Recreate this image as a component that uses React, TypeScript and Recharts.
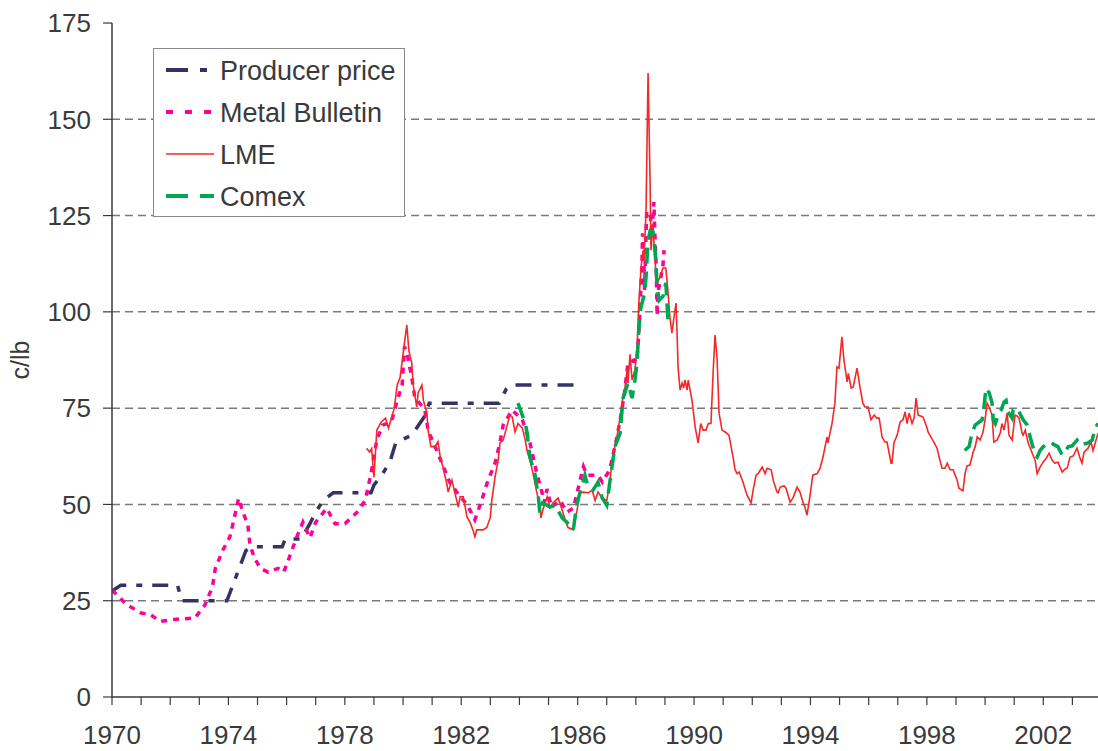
import React from 'react';
import { LineChart, Line, XAxis, YAxis, CartesianGrid, Legend, Label } from 'recharts';

const FONT = '"Liberation Sans", Arial, sans-serif';
const TEXT = '#3a3a3a';

const yearTicks = [1970, 1971, 1972, 1973, 1974, 1975, 1976, 1977, 1978, 1979, 1980, 1981, 1982, 1983, 1984, 1985, 1986, 1987, 1988, 1989, 1990, 1991, 1992, 1993, 1994, 1995, 1996, 1997, 1998, 1999, 2000, 2001, 2002, 2003];
const labelYears = [1970, 1974, 1978, 1982, 1986, 1990, 1994, 1998, 2002];
const yTicks = [0, 25, 50, 75, 100, 125, 150, 175];
const gridValues = [25, 50, 75, 100, 125, 150];

const producer: [number, number][] = [
  [1970.0, 27.5], [1970.3, 29], [1972.25, 29], [1972.4, 25], [1973.95, 25], [1974.2, 30], [1974.6, 38], [1974.8, 39],
  [1975.85, 39], [1975.95, 41], [1976.5, 41], [1976.8, 45], [1977.0, 48], [1977.25, 51], [1977.6, 53], [1978.9, 53],
  [1979.0, 55], [1979.3, 58], [1979.55, 61], [1979.75, 66], [1980.3, 68], [1980.75, 73], [1980.9, 76.3], [1983.3, 76.3],
  [1983.55, 80], [1983.7, 81], [1985.95, 81],
];

const metalBulletin: [number, number][] = [
  [1970.0, 27.8], [1970.5, 24], [1971.0, 21.8], [1971.3, 21.5], [1971.65, 19.6], [1972.2, 20.2], [1972.85, 20.5],
  [1973.2, 24], [1973.45, 28.6], [1973.55, 33.4], [1973.8, 38], [1974.05, 41.6], [1974.2, 46.4], [1974.35, 51.6],
  [1974.5, 48], [1974.67, 44.6], [1974.74, 39.5], [1974.9, 36], [1975.1, 33.4], [1975.37, 32.4], [1975.7, 33.4],
  [1975.9, 32.4], [1976.1, 36.4], [1976.35, 41.6], [1976.56, 45.4], [1976.8, 41.3], [1977.0, 45.4], [1977.38, 49],
  [1977.66, 45], [1978.0, 45], [1978.4, 47.8], [1978.7, 51], [1978.9, 58], [1979.1, 66.7], [1979.3, 70.6],
  [1979.6, 71.4], [1979.8, 77], [1979.97, 81], [1980.05, 91], [1980.17, 88], [1980.3, 83], [1980.4, 78],
  [1980.75, 74.5], [1980.86, 69.3], [1981.34, 60.7], [1981.6, 55.8], [1981.96, 52], [1982.2, 50], [1982.47, 46],
  [1982.7, 51], [1982.9, 55.8], [1983.16, 60.7], [1983.33, 66], [1983.44, 70.6], [1983.75, 74.5], [1984.1, 72],
  [1984.36, 66], [1984.47, 62.3], [1984.6, 58], [1984.78, 53], [1984.85, 50.4], [1984.95, 54], [1985.1, 49.3],
  [1985.4, 51], [1985.63, 48], [1985.85, 49], [1986.2, 59.8], [1986.32, 57.6], [1986.7, 57.6], [1986.85, 55.8],
  [1987.1, 59], [1987.2, 62.3], [1987.35, 67.5], [1987.5, 73.7], [1987.6, 78.4], [1987.67, 83], [1987.73, 86.7],
  [1987.94, 87.5], [1988.03, 87], [1988.08, 92], [1988.12, 97], [1988.18, 107.5], [1988.21, 112.7], [1988.23, 120.4],
  [1988.27, 115.5], [1988.3, 105.7], [1988.37, 126], [1988.49, 125.6], [1988.55, 120], [1988.62, 128.5],
  [1988.66, 119], [1988.7, 111.6], [1988.73, 99], [1988.76, 105], [1988.93, 112], [1988.97, 116],
];

const lme: [number, number][] = [
  [1978.75, 64.6], [1978.85, 63.6], [1978.92, 64.5], [1979.0, 57], [1979.1, 69.3], [1979.25, 71.4], [1979.4, 72.4],
  [1979.5, 69.8], [1979.6, 72.4], [1979.7, 75], [1979.8, 81], [1979.9, 83], [1980.0, 89], [1980.13, 96.6],
  [1980.2, 90], [1980.3, 86.7], [1980.35, 81], [1980.47, 75.3], [1980.52, 79], [1980.65, 81], [1980.7, 77],
  [1980.82, 73.7], [1980.86, 69.3], [1980.96, 65], [1981.1, 65], [1981.2, 66.3], [1981.27, 62.8], [1981.37, 59.7],
  [1981.5, 55.5], [1981.55, 53.2], [1981.68, 56.3], [1981.8, 52.4], [1981.9, 49.3], [1981.96, 52], [1982.07, 52],
  [1982.2, 46.7], [1982.3, 45.4], [1982.4, 43.4], [1982.47, 41.6], [1982.53, 43.4], [1982.75, 43.4], [1982.88, 44],
  [1983.0, 46.7], [1983.05, 51], [1983.16, 57], [1983.27, 61.5], [1983.33, 66], [1983.44, 66.7], [1983.56, 70],
  [1983.67, 73.2], [1983.75, 72.7], [1983.85, 68.8], [1983.95, 71], [1984.1, 69.8], [1984.2, 66.7], [1984.26, 64],
  [1984.36, 61.5], [1984.47, 58], [1984.6, 53], [1984.68, 50.4], [1984.74, 46.5], [1984.8, 48.5], [1984.95, 52],
  [1985.05, 49.3], [1985.16, 50.4], [1985.33, 51.7], [1985.47, 48.5], [1985.57, 46], [1985.67, 44], [1985.85, 43.4],
  [1985.98, 48.5], [1986.08, 53], [1986.2, 53.2], [1986.36, 53], [1986.5, 53.7], [1986.6, 51], [1986.7, 53.2],
  [1986.84, 51.7], [1987.0, 51], [1987.1, 55.5], [1987.2, 62.3], [1987.35, 67.5], [1987.46, 72.7], [1987.56, 78],
  [1987.63, 80.5], [1987.7, 85], [1987.73, 81.5], [1987.8, 89], [1987.87, 82.3], [1987.97, 85], [1988.04, 90],
  [1988.1, 102], [1988.18, 111.6], [1988.25, 116], [1988.28, 113.4], [1988.35, 126.4], [1988.42, 162],
  [1988.49, 133.4], [1988.52, 116], [1988.59, 123], [1988.62, 117.9], [1988.7, 109], [1988.73, 107.5],
  [1988.83, 109], [1988.93, 111.4], [1989.03, 111.4], [1989.1, 105.7], [1989.17, 98.6], [1989.24, 94.5],
  [1989.31, 98.6], [1989.38, 102.3], [1989.42, 93.5], [1989.45, 85.7], [1989.52, 79.7], [1989.59, 81.5],
  [1989.64, 80.2], [1989.69, 82.3], [1989.76, 79.7], [1989.8, 82.3], [1989.93, 77], [1990.04, 70], [1990.14, 66],
  [1990.23, 71], [1990.31, 69.3], [1990.41, 69.3], [1990.49, 71], [1990.58, 71], [1990.66, 85], [1990.72, 94],
  [1990.79, 88], [1990.86, 73.7], [1990.96, 69.3], [1991.07, 68.8], [1991.2, 68], [1991.34, 62.3], [1991.41, 59],
  [1991.48, 58], [1991.55, 58.4], [1991.68, 55.8], [1991.82, 52.4], [1991.96, 50.4], [1992.03, 53.7],
  [1992.13, 57.6], [1992.2, 58], [1992.34, 59.7], [1992.44, 58], [1992.51, 59.4], [1992.65, 59], [1992.72, 56.3],
  [1992.85, 53.2], [1992.89, 53], [1992.96, 54.5], [1993.09, 54.8], [1993.16, 54.2], [1993.3, 50.6], [1993.4, 51.7],
  [1993.54, 54.5], [1993.64, 53.2], [1993.74, 50.6], [1993.81, 49.3], [1993.88, 47.2], [1993.98, 52],
  [1994.08, 57.6], [1994.23, 58], [1994.33, 59.4], [1994.43, 62.3], [1994.57, 67.5], [1994.6, 66], [1994.74, 71],
  [1994.84, 76.3], [1994.91, 85.7], [1994.98, 85.4], [1995.08, 93.5], [1995.15, 87.5], [1995.26, 81.8],
  [1995.3, 84], [1995.4, 80.2], [1995.47, 80.5], [1995.6, 85.4], [1995.7, 80.5], [1995.8, 76.3], [1995.87, 75.3],
  [1995.98, 75.3], [1996.08, 72], [1996.19, 73.2], [1996.28, 72.4], [1996.36, 72.4], [1996.46, 67.5],
  [1996.56, 66.2], [1996.63, 66.2], [1996.77, 60.7], [1996.8, 60.7], [1996.87, 66], [1996.98, 68], [1997.08, 71.4],
  [1997.18, 72], [1997.25, 74], [1997.32, 71], [1997.39, 73.7], [1997.49, 71], [1997.56, 72.4], [1997.63, 77.6],
  [1997.7, 73.2], [1997.87, 72.7], [1998.0, 70], [1998.04, 68.8], [1998.14, 67.5], [1998.24, 66.2], [1998.35, 64.6],
  [1998.42, 62.3], [1998.52, 59.4], [1998.62, 59.4], [1998.7, 60.7], [1998.8, 59], [1998.9, 59], [1999.04, 56.3],
  [1999.1, 54.2], [1999.24, 53.5], [1999.31, 58], [1999.38, 60], [1999.48, 60.2], [1999.59, 63.6], [1999.66, 65],
  [1999.73, 67.5], [1999.83, 66.7], [1999.93, 68.8], [2000.0, 72], [2000.07, 76.3], [2000.14, 75.3], [2000.24, 73.2],
  [2000.3, 66.2], [2000.41, 66.7], [2000.52, 68.5], [2000.58, 71], [2000.65, 69.3], [2000.76, 73.7], [2000.82, 68],
  [2000.93, 66.7], [2001.03, 73.2], [2001.1, 73], [2001.17, 72.4], [2001.27, 68.5], [2001.31, 68], [2001.38, 69.3],
  [2001.48, 66], [2001.62, 63.3], [2001.72, 61.5], [2001.79, 58], [2001.89, 59.7], [2002.0, 61], [2002.1, 62],
  [2002.2, 63.3], [2002.3, 61.5], [2002.4, 60.7], [2002.5, 61], [2002.65, 58.4], [2002.75, 59.2], [2002.82, 59.4],
  [2002.92, 62.3], [2003.03, 62.6], [2003.16, 64.6], [2003.25, 62.3], [2003.33, 60.7], [2003.4, 63.6],
  [2003.54, 64.6], [2003.64, 66.2], [2003.71, 64], [2003.88, 68.5],
];

const comexEarly: [number, number][] = [
  [1983.95, 76.3], [1984.2, 71], [1984.26, 68.8], [1984.36, 62.3], [1984.53, 58], [1984.65, 52], [1984.7, 47.8],
  [1984.8, 50.4], [1984.95, 49.8], [1985.05, 49.3], [1985.22, 49.8], [1985.47, 46.5], [1985.63, 45.4],
  [1985.85, 43.4], [1985.98, 50.4], [1986.08, 53], [1986.25, 57.6], [1986.36, 54.5], [1986.53, 53.7],
  [1986.7, 55.8], [1986.84, 51.7], [1987.0, 49.8], [1987.1, 55.5], [1987.28, 65], [1987.46, 68.5], [1987.56, 77.6],
  [1987.73, 81.5], [1987.87, 77.6], [1987.97, 82.3], [1988.04, 86.7], [1988.1, 95.3], [1988.17, 101],
  [1988.3, 104.9], [1988.35, 109], [1988.42, 118.6], [1988.49, 121], [1988.59, 120.7], [1988.66, 116],
  [1988.7, 110.8], [1988.73, 106.4], [1988.8, 103], [1988.93, 104], [1989.03, 107.5], [1989.07, 102.3],
  [1989.1, 97.9],
];

const comexLate: [number, number][] = [
  [1999.3, 64], [1999.45, 65], [1999.55, 68.5], [1999.66, 70.6], [1999.9, 72], [1999.97, 75.8], [2000.03, 80.2],
  [2000.14, 79], [2000.24, 76.3], [2000.28, 72], [2000.35, 71], [2000.45, 73.2], [2000.55, 74.5], [2000.65, 76.6],
  [2000.72, 77], [2000.79, 74], [2000.93, 72.4], [2000.96, 74.5], [2001.1, 75], [2001.17, 74], [2001.31, 72],
  [2001.45, 70.6], [2001.55, 67.5], [2001.72, 62.8], [2001.79, 62.3], [2001.89, 64], [2002.0, 65], [2002.23, 66.2],
  [2002.4, 65.4], [2002.5, 65], [2002.65, 62.8], [2002.86, 65], [2002.99, 65.2], [2003.16, 66.7], [2003.27, 65.4],
  [2003.54, 66], [2003.68, 66.7], [2003.78, 69.8], [2003.88, 71],
];

const toRows = (pts: [number, number][]) => pts.map(([t, v]) => ({ t, v }));

const NAVY = '#333366';
const MAGENTA = '#ff0099';
const RED = '#f42828';
const GREEN = '#00a651';

const legendItems = [
  { name: 'Producer price', color: NAVY, dash: '22 12 7 12', width: 4 },
  { name: 'Metal Bulletin', color: MAGENTA, dash: '7 12', width: 4 },
  { name: 'LME', color: RED, dash: undefined, width: 1.5 },
  { name: 'Comex', color: GREEN, dash: '22 12', width: 4 },
];

const renderLegend = () => (
  <div style={{ width: 252, height: 169, boxSizing: 'border-box', border: '1.5px solid #8a8a8a', background: '#fff' }}>
    <svg width={249} height={166} style={{ display: 'block' }}>
      {legendItems.map((it, i) => {
        const cy = 21 + i * 42;
        return (
          <g key={it.name}>
            <line x1={12} x2={60} y1={cy} y2={cy} stroke={it.color} strokeWidth={it.width} strokeDasharray={it.dash} />
            <text x={66} y={cy + 9.5} fontSize={27} fill={TEXT} fontFamily={FONT}>{it.name}</text>
          </g>
        );
      })}
    </svg>
  </div>
);

const XTick = (props: any) => {
  const { x, y, payload } = props;
  if (!labelYears.includes(payload.value)) return <g />;
  return (
    <text x={x} y={y} dy={19} textAnchor="middle" fontSize={26} fill={TEXT} fontFamily={FONT}>
      {payload.value}
    </text>
  );
};

const YLabel = (props: any) => {
  const vb = props.viewBox || { x: 0, y: 23, width: 112, height: 674 };
  const cx = vb.x + 20;
  const cy = vb.y + vb.height / 2;
  return (
    <text x={cx} y={cy} transform={`rotate(-90 ${cx} ${cy})`} textAnchor="middle" dominantBaseline="central"
      fontSize={25} fill={TEXT} fontFamily={FONT}>
      c/lb
    </text>
  );
};

export default function App() {
  return (
    <div style={{ position: 'absolute', left: 0, top: 0, width: 1098, height: 751, background: '#fff', fontFamily: FONT }}>
      <LineChart width={1098} height={751} margin={{ top: 23, right: 0, bottom: 0, left: 0 }}>
        <CartesianGrid horizontal vertical={false} horizontalValues={gridValues} stroke="#7a7a7a" strokeWidth={1.5} strokeDasharray="8 5" />
        <XAxis
          dataKey="t"
          type="number"
          domain={[1970, 2003.88]}
          allowDataOverflow
          ticks={yearTicks}
          interval={0}
          height={54}
          tick={<XTick />}
          tickSize={8}
          tickMargin={20}
          axisLine={{ stroke: '#3a3a3a', strokeWidth: 1.5 }}
          tickLine={{ stroke: '#3a3a3a', strokeWidth: 1.2 }}
        />
        <YAxis
          type="number"
          domain={[0, 175]}
          ticks={yTicks}
          interval={0}
          width={112}
          tickSize={9}
          tickMargin={12}
          tick={{ fontSize: 26, fill: TEXT, fontFamily: FONT }}
          axisLine={{ stroke: '#3a3a3a', strokeWidth: 1.5 }}
          tickLine={{ stroke: '#3a3a3a', strokeWidth: 1.2 }}
        >
          <Label content={<YLabel />} />
        </YAxis>
        <Legend layout="horizontal" verticalAlign="middle" align="center" content={renderLegend}
          wrapperStyle={{ left: 153, top: 48, width: 252, height: 169 }} />
        <Line data={toRows(producer)} dataKey="v" name="Producer price" stroke={NAVY} strokeWidth={3.5}
          strokeDasharray="16 10 6 10" dot={false} activeDot={false} isAnimationActive={false} type="linear" />
        <Line data={toRows(metalBulletin)} dataKey="v" name="Metal Bulletin" stroke={MAGENTA} strokeWidth={3.5}
          strokeDasharray="6 6" dot={false} activeDot={false} isAnimationActive={false} type="linear" />
        <Line data={toRows(lme)} dataKey="v" name="LME" stroke={RED} strokeWidth={1.6}
          dot={false} activeDot={false} isAnimationActive={false} type="linear" />
        <Line data={toRows(comexEarly)} dataKey="v" name="Comex" stroke={GREEN} strokeWidth={3.5}
          strokeDasharray="16 8" dot={false} activeDot={false} isAnimationActive={false} type="linear" />
        <Line data={toRows(comexLate)} dataKey="v" name="Comex " stroke={GREEN} strokeWidth={3.5}
          strokeDasharray="16 8" dot={false} activeDot={false} isAnimationActive={false} type="linear" legendType="none" />
      </LineChart>
    </div>
  );
}
